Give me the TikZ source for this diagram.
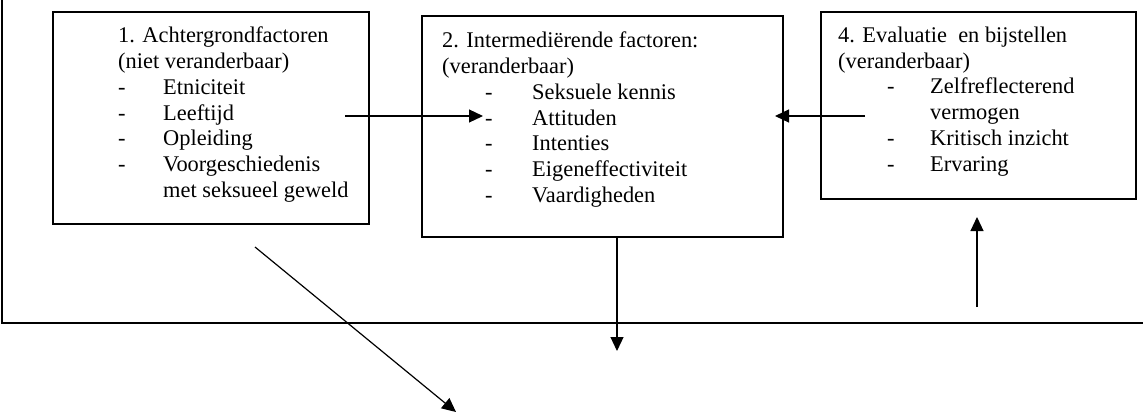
\documentclass[tikz,border=0pt]{standalone}
\usepackage{fontspec}
\setmainfont{Liberation Serif}
\usetikzlibrary{arrows.meta}
\begin{document}
\begin{tikzpicture}[x=1pt,y=-1pt,
  box/.style={draw,line width=1.5pt,inner sep=0pt},
  conn/.style={line width=1.2pt,-{Triangle[length=14pt,width=13pt]}},
  frame/.style={line width=2.2pt},
  txt/.style={anchor=base west,inner sep=0pt,font=\fontsize{22.4}{25.8}\selectfont}]
\useasboundingbox (0,0) rectangle (1143,413);
% frame
\coordinate (ftl) at (2,0);
\coordinate (fbr) at (1143,323);
\draw[frame] (ftl) |- (fbr);
% boxes
\node[box,minimum width=316pt,minimum height=212pt] (b1) at (211,118) {};
\node[box,minimum width=361pt,minimum height=221pt] (b2) at (602.5,126.5) {};
\node[box,minimum width=315pt,minimum height=187pt] (b3) at (978.5,105.5) {};
% texts
\node[txt] (t1) at (118,42.7) {\parbox[t]{240pt}{1. Achtergrondfactoren\\
(niet veranderbaar)\\
\makebox[45pt][l]{-}Etniciteit\\
\makebox[45pt][l]{-}Leeftijd\\
\makebox[45pt][l]{-}Opleiding\\
\makebox[45pt][l]{-}Voorgeschiedenis\\
\hspace*{45pt}met seksueel geweld}};
\node[txt] (t2) at (442,47.7) {\parbox[t]{320pt}{2. Intermediërende factoren:\\
(veranderbaar)\\
\hspace*{43pt}\makebox[47pt][l]{-}Seksuele kennis\\
\hspace*{43pt}\makebox[47pt][l]{-}Attituden\\
\hspace*{43pt}\makebox[47pt][l]{-}Intenties\\
\hspace*{43pt}\makebox[47pt][l]{-}Eigeneffectiviteit\\
\hspace*{43pt}\makebox[47pt][l]{-}Vaardigheden}};
\node[txt] (t3) at (838,42.3) {\parbox[t]{290pt}{4. Evaluatie\ \ en bijstellen\\
(veranderbaar)\\
\hspace*{49pt}\makebox[43pt][l]{-}Zelfreflecterend\\
\hspace*{92pt}vermogen\\
\hspace*{49pt}\makebox[43pt][l]{-}Kritisch inzicht\\
\hspace*{49pt}\makebox[43pt][l]{-}Ervaring}};
% connectors
\coordinate (a12s) at (345,116);
\coordinate (a12e) at (483,116);
\draw[conn] (a12s) -- (a12e);
\coordinate (a42s) at (865,116);
\coordinate (a42e) at (775,116);
\draw[conn] (a42s) -- (a42e);
\coordinate (dn) at (617,351);
\draw[conn] (b2.south -| dn) -- (dn);
\coordinate (ups) at (977,307);
\coordinate (upe) at (977,217);
\draw[conn] (ups) -- (upe);
\coordinate (ds) at (255,247);
\coordinate (de) at (456,412);
\draw[conn] (ds) -- (de);
\end{tikzpicture}
\end{document}
